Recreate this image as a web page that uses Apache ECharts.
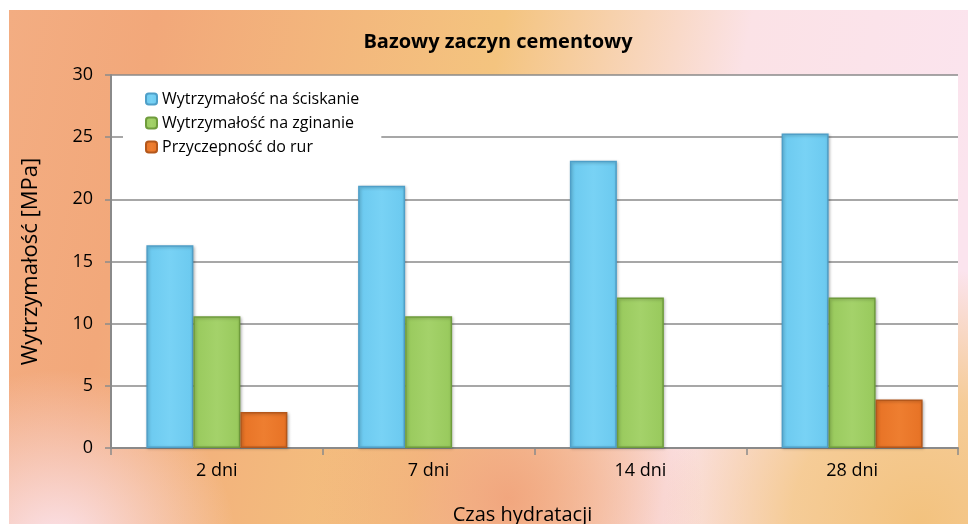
<!DOCTYPE html>
<html>
<head>
<meta charset="utf-8">
<script src="https://cdn.jsdelivr.net/npm/echarts@6/dist/echarts.min.js"></script>
<style>
  html, body { margin: 0; padding: 0; background: #fff; }
  #chart { width: 968px; height: 524px; }
</style>
</head>
<body>
<div id="chart"></div>
<script>
const categories = ['2 dni', '7 dni', '14 dni', '28 dni']
const compressive = [16.3, 21.1, 23.1, 25.3]
const bending = [10.6, 10.6, 12.1, 12.1]
const adhesion = [2.9, null, null, 3.9]
const yTicks = [0, 5, 10, 15, 20, 25, 30]

const font = '"Open Sans", Lato, sans-serif'

function barStyle(light, main, dark) {
  return {
    color: new echarts.graphic.LinearGradient(0, 0, 1, 0, [
      { offset: 0, color: main },
      { offset: 0.5, color: light },
      { offset: 1, color: main },
    ]),
    borderColor: dark,
    borderWidth: 1.5,
    shadowBlur: 3,
    shadowColor: 'rgba(0,0,0,0.25)',
    shadowOffsetX: 1,
    shadowOffsetY: 1,
  }
}

const bgShape = { x: 9, y: 10, width: 959, height: 514 }

const chart = echarts.init(document.getElementById('chart'))
chart.setOption({
  animation: false,
  textStyle: { fontFamily: font },
  graphic: [
    {
      type: 'rect',
      z: -10,
      shape: bgShape,
      style: {
        fill: new echarts.graphic.LinearGradient(0, 0, 1, 0.35, [
          { offset: 0, color: '#f3ad82' },
          { offset: 0.15, color: '#f2a87a' },
          { offset: 0.5, color: '#f4c47f' },
          { offset: 0.75, color: '#fbe2e6' },
          { offset: 1, color: '#fbe4ee' },
        ]),
      },
    },
    {
      type: 'rect',
      z: -9,
      shape: bgShape,
      style: {
        fill: new echarts.graphic.RadialGradient(0.05, 1.05, 0.35, [
          { offset: 0, color: 'rgba(251,228,238,1)' },
          { offset: 1, color: 'rgba(251,228,238,0)' },
        ]),
      },
    },
    {
      type: 'rect',
      z: -9,
      shape: bgShape,
      style: {
        fill: new echarts.graphic.RadialGradient(0.95, 1.0, 0.5, [
          { offset: 0, color: 'rgba(243,194,126,1)' },
          { offset: 0.5, color: 'rgba(244,198,130,0.8)' },
          { offset: 1, color: 'rgba(243,194,126,0)' },
        ]),
      },
    },
    {
      type: 'rect',
      z: -9,
      shape: bgShape,
      style: {
        fill: new echarts.graphic.RadialGradient(0.52, 0.95, 0.38, [
          { offset: 0, color: 'rgba(241,164,124,0.95)' },
          { offset: 1, color: 'rgba(241,164,124,0)' },
        ]),
      },
    },
  ],
  title: {
    text: 'Bazowy zaczyn cementowy',
    left: 493,
    textAlign: 'center',
    top: 27,
    textStyle: { fontFamily: font, fontSize: 20, fontWeight: 'bold', color: '#000' },
  },
  legend: {
    orient: 'vertical',
    left: 123,
    top: 80,
    backgroundColor: '#fff',
    padding: [11, 22, 15, 22],
    itemWidth: 11,
    itemHeight: 11,
    itemGap: 8,
    textStyle: { fontFamily: font, fontSize: 16, color: '#000' },
    data: ['Wytrzymałość na ściskanie', 'Wytrzymałość na zginanie', 'Przyczepność do rur'],
  },
  grid: {
    left: 111,
    right: 10,
    top: 75,
    bottom: 76,
    outerBoundsMode: 'none',
    show: true,
    backgroundColor: '#fff',
    borderWidth: 0,
  },
  xAxis: {
    type: 'category',
    data: categories,
    name: 'Czas hydratacji',
    nameLocation: 'middle',
    nameGap: 57,
    nameTextStyle: { fontFamily: font, fontSize: 20, color: '#000', padding: [0, 24, 0, 0] },
    axisLine: { lineStyle: { color: '#8a8a8a', width: 2 } },
    axisTick: { show: true, length: 7, lineStyle: { color: '#8a8a8a', width: 1.5 } },
    axisLabel: { fontFamily: font, fontSize: 18, color: '#000', margin: 14 },
  },
  yAxis: {
    type: 'value',
    min: yTicks[0],
    max: yTicks[yTicks.length - 1],
    interval: 5,
    name: 'Wytrzymałość [MPa]',
    nameLocation: 'middle',
    nameGap: 69,
    nameTextStyle: { fontFamily: font, fontSize: 22, color: '#000' },
    axisLine: { show: true, lineStyle: { color: '#8a8a8a', width: 2 } },
    axisTick: { show: true, inside: false, length: 6, lineStyle: { color: '#8a8a8a', width: 1.5 } },
    axisLabel: { fontFamily: font, fontSize: 18, color: '#000', margin: 18 },
    splitLine: { lineStyle: { color: '#8a8a8a', width: 1.5 } },
  },
  series: [
    {
      name: 'Wytrzymałość na ściskanie',
      type: 'bar',
      data: compressive,
      barWidth: 47,
      barGap: '0%',
      itemStyle: barStyle('#78d2f5', '#6bc9ef', '#4f9fc8'),
    },
    {
      name: 'Wytrzymałość na zginanie',
      type: 'bar',
      data: bending,
      barWidth: 47,
      barGap: '0%',
      itemStyle: barStyle('#a4d26a', '#98c95c', '#6f9c3c'),
    },
    {
      name: 'Przyczepność do rur',
      type: 'bar',
      data: adhesion,
      barWidth: 47,
      barGap: '0%',
      itemStyle: barStyle('#ee7e30', '#e77225', '#b3571b'),
    },
  ],
})
</script>
</body>
</html>
